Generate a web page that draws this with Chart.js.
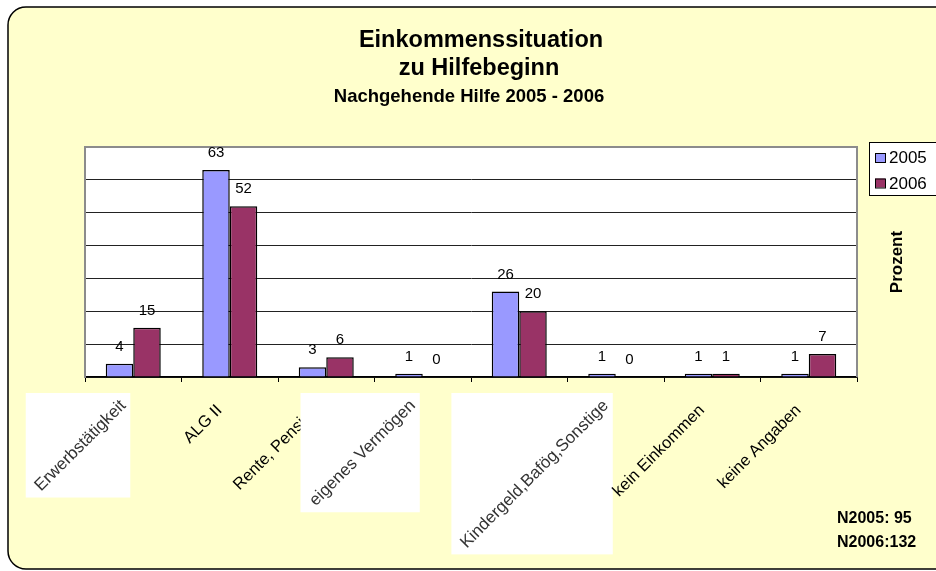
<!DOCTYPE html>
<html>
<head>
<meta charset="utf-8">
<title>Einkommenssituation zu Hilfebeginn</title>
<script src="https://cdn.jsdelivr.net/npm/chart.js"></script>
<style>
  body { margin: 0; background: #fff; }
  canvas { display: block; }
</style>
</head>
<body>
<canvas id="chart" width="936" height="571"></canvas>
<script>
// chart data
const categories = ['Erwerbstätigkeit', 'ALG II', 'Rente, Pension', 'eigenes Vermögen', 'Sozialhilfe',
                    'Kindergeld,Bafög,Sonstige', 'kein Einkommen', 'keine Angaben'];
const seriesNames = ['2005', '2006'];
const values2005 = [4, 63, 3, 1, 26, 1, 1, 1];
const values2006 = [15, 52, 6, 0, 20, 0, 1, 7];
const yMax = 70;
const yStep = 10;
const titleLines = ['Einkommenssituation', 'zu Hilfebeginn', 'Nachgehende Hilfe 2005 - 2006'];
const axisTitle = 'Prozent';
const sampleNotes = ['N2005: 95', 'N2006:132'];

const FONT = 'Arial, "Liberation Sans", sans-serif';
// labels that sit on a white box in the original
const boxedLabels = [0, 3, 5];

// yellow frame + white plot area
const framePlugin = {
    id: 'frame',
    beforeDraw(chart) {
        const ctx = chart.ctx, a = chart.chartArea;
        ctx.save();
        ctx.fillStyle = '#fff';
        ctx.fillRect(0, 0, chart.width, chart.height);
        ctx.beginPath();
        ctx.roundRect(8, 7, 960, 562, 18);
        ctx.fillStyle = '#FFFFCC';
        ctx.fill();
        ctx.lineWidth = 1.5;
        ctx.strokeStyle = '#000';
        ctx.stroke();
        ctx.fillStyle = '#fff';
        ctx.fillRect(a.left, a.top, a.right - a.left, a.bottom - a.top);
        ctx.restore();
    },
    beforeDatasetsDraw(chart) {
        const ctx = chart.ctx, a = chart.chartArea;
        ctx.save();
        ctx.strokeStyle = '#8c8c8c';
        ctx.lineWidth = 2;
        ctx.beginPath();
        ctx.moveTo(a.left, a.top);
        ctx.lineTo(a.right, a.top);
        ctx.lineTo(a.right, a.bottom);
        ctx.stroke();
        ctx.restore();
    }
};

// value labels above the bars
const valueLabels = {
    id: 'valueLabels',
    afterDatasetsDraw(chart) {
        const ctx = chart.ctx;
        ctx.save();
        ctx.font = '15px ' + FONT;
        ctx.fillStyle = '#000';
        ctx.textAlign = 'center';
        ctx.textBaseline = 'middle';
        chart.data.datasets.forEach((ds, i) => {
            chart.getDatasetMeta(i).data.forEach((bar, j) => {
                ctx.fillText(String(ds.data[j]), bar.x, bar.y - 17);
            });
        });
        ctx.restore();
    }
};

// titles, rotated category labels, legend, notes
const decorations = {
    id: 'decorations',
    afterDraw(chart) {
        const ctx = chart.ctx, a = chart.chartArea;
        const xs = chart.scales.x;
        ctx.save();
        ctx.fillStyle = '#000';

        // title
        ctx.textAlign = 'center';
        ctx.textBaseline = 'middle';
        ctx.font = 'bold 23.5px ' + FONT;
        ctx.fillText(titleLines[0], 481, 41);
        ctx.fillText(titleLines[1], 479, 69);
        ctx.font = 'bold 18.5px ' + FONT;
        ctx.fillText(titleLines[2], 469, 97);

        // category labels, drawn in order so later boxes cover earlier text
        categories.forEach((label, i) => {
            const boxed = boxedLabels.includes(i);
            const size = boxed ? 17 : 16.5;
            ctx.font = size + 'px ' + FONT;
            const w = ctx.measureText(label).width;
            const ax = xs.getPixelForValue(i) - 16;
            const ay = a.bottom + (boxed ? 20 : 25);
            if (boxed) {
                const k = Math.SQRT1_2;
                ctx.fillStyle = '#fff';
                ctx.fillRect(ax - k * w - 6, a.bottom + 16, k * w + k * size + 7, k * (w + size) + 7);
            }
            ctx.save();
            ctx.translate(ax, ay);
            ctx.rotate(-Math.PI / 4);
            ctx.textAlign = 'right';
            ctx.textBaseline = 'top';
            ctx.fillStyle = boxed ? '#333' : '#000';
            ctx.fillText(label, 0, 0);
            ctx.restore();
        });

        // legend
        const lx = 869, ly = 142;
        ctx.fillStyle = '#fff';
        ctx.fillRect(lx, ly, 70, 53);
        ctx.strokeStyle = '#000';
        ctx.lineWidth = 1;
        ctx.strokeRect(lx + 0.5, ly + 0.5, 70, 53);
        ctx.font = '17px ' + FONT;
        ctx.textAlign = 'left';
        ctx.textBaseline = 'middle';
        chart.data.datasets.forEach((ds, i) => {
            const cy = ly + 15.5 + i * 25.5;
            ctx.fillStyle = ds.backgroundColor;
            ctx.fillRect(lx + 6, cy - 4.5, 10, 9);
            ctx.strokeRect(lx + 6.5, cy - 4, 10, 9);
            ctx.fillStyle = '#000';
            ctx.fillText(ds.label, lx + 20, cy + 1);
        });

        // axis title on the right
        ctx.save();
        ctx.translate(897, 262);
        ctx.rotate(-Math.PI / 2);
        ctx.textAlign = 'center';
        ctx.font = 'bold 17px ' + FONT;
        ctx.fillText(axisTitle, 0, 0);
        ctx.restore();

        // sample sizes
        ctx.font = 'bold 16px ' + FONT;
        ctx.textAlign = 'left';
        sampleNotes.forEach((t, i) => ctx.fillText(t, 837, 519 + i * 24));
        ctx.restore();
    }
};

new Chart(document.getElementById('chart'), {
    type: 'bar',
    data: {
        labels: categories,
        datasets: [
            { label: seriesNames[0], data: values2005, backgroundColor: '#9999FF' },
            { label: seriesNames[1], data: values2006, backgroundColor: '#993366' }
        ]
    },
    options: {
        responsive: false,
        animation: false,
        devicePixelRatio: 1,
        layout: { padding: { left: 85, top: 147, right: 79, bottom: 194 } },
        datasets: {
            bar: {
                borderColor: '#000',
                borderWidth: 1.5,
                categoryPercentage: 0.57,
                barPercentage: 1.0
            }
        },
        plugins: {
            legend: { display: false },
            title: { display: false },
            tooltip: { enabled: false }
        },
        scales: {
            x: {
                afterFit(s) { s.height = 0; },
                ticks: { display: false },
                grid: {
                    offset: true,
                    drawOnChartArea: false,
                    tickLength: 5,
                    color: '#000',
                    lineWidth: 1
                },
                border: { color: '#000', width: 1.5 }
            },
            y: {
                min: 0,
                max: yMax,
                afterFit(s) { s.width = 0; },
                ticks: { display: false, stepSize: yStep },
                grid: {
                    drawTicks: false,
                    color: ctx => ctx.tick.value === yMax ? 'rgba(0,0,0,0)' : '#222',
                    lineWidth: 1
                },
                border: { color: '#8c8c8c', width: 2 }
            }
        }
    },
    plugins: [framePlugin, valueLabels, decorations]
});
</script>
</body>
</html>
